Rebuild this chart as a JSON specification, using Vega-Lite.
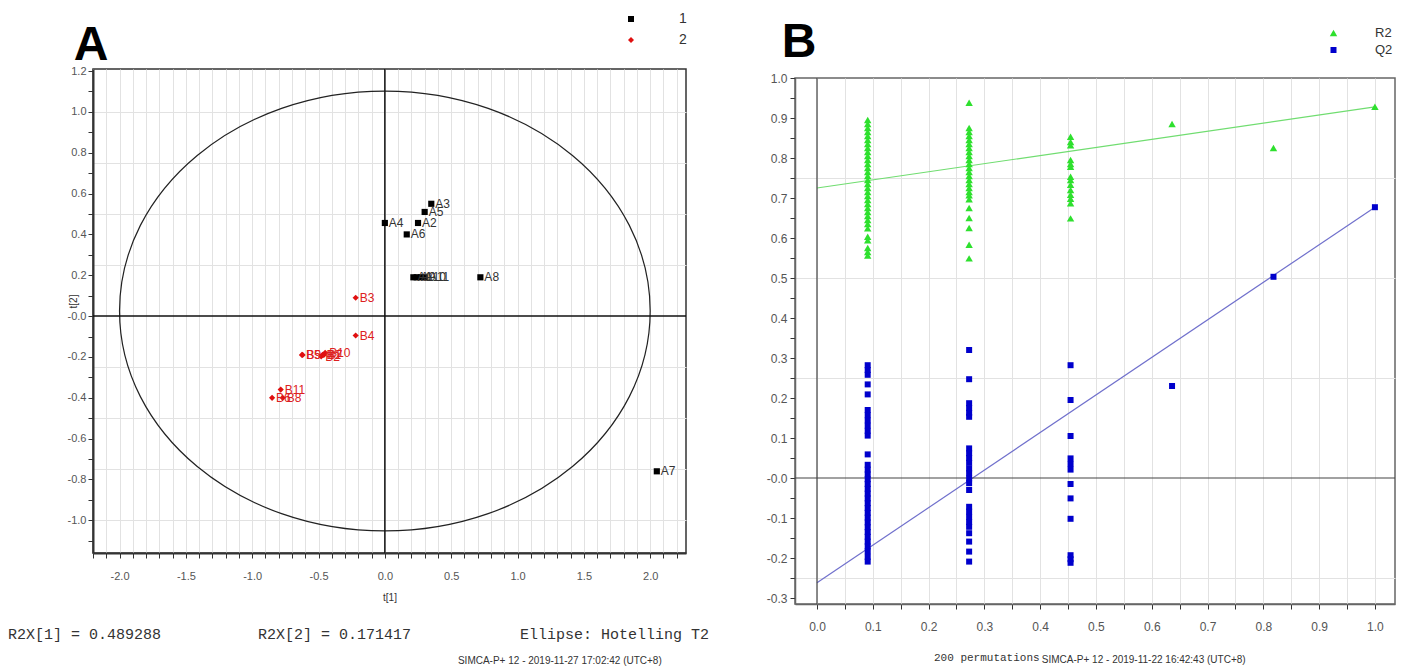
{
  "$schema": "https://vega.github.io/schema/vega-lite/v6.json",
  "background": "white",
  "padding": {"left": 7, "top": 11, "right": 6, "bottom": 2},
  "spacing": 55,
  "config": {
    "font": "Liberation Sans",
    "axis": {"labelFont": "Liberation Sans", "titleFont": "Liberation Sans", "titleFontWeight": "normal", "labelOverlap": false, "labelColor": "#555", "tickColor": "#333", "domainColor": "#333", "gridColor": "#e2e2e2", "gridWidth": 1},
    "legend": {"labelFont": "Liberation Sans"}
  },
  "resolve": {"scale": {"color": "independent", "shape": "independent", "size": "independent"}, "legend": {"color": "independent", "shape": "independent"}},
  "datasets": {
    "scoresA": [
      {"id": "A1", "g": "1", "t1": 0.215, "t2": 0.19},
      {"id": "A2", "g": "1", "t1": 0.25, "t2": 0.456},
      {"id": "A3", "g": "1", "t1": 0.35, "t2": 0.55},
      {"id": "A4", "g": "1", "t1": 0.0, "t2": 0.456},
      {"id": "A5", "g": "1", "t1": 0.30, "t2": 0.51},
      {"id": "A6", "g": "1", "t1": 0.165, "t2": 0.40},
      {"id": "A7", "g": "1", "t1": 2.05, "t2": -0.76},
      {"id": "A8", "g": "1", "t1": 0.72, "t2": 0.19},
      {"id": "A9", "g": "1", "t1": 0.24, "t2": 0.19},
      {"id": "A10", "g": "1", "t1": 0.27, "t2": 0.19},
      {"id": "A11", "g": "1", "t1": 0.30, "t2": 0.19},
      {"id": "B1", "g": "2", "t1": -0.47, "t2": -0.19},
      {"id": "B2", "g": "2", "t1": -0.48, "t2": -0.198},
      {"id": "B3", "g": "2", "t1": -0.22, "t2": 0.09},
      {"id": "B4", "g": "2", "t1": -0.22, "t2": -0.095},
      {"id": "B5", "g": "2", "t1": -0.625, "t2": -0.19},
      {"id": "B6", "g": "2", "t1": -0.85, "t2": -0.40},
      {"id": "B7", "g": "2", "t1": -0.46, "t2": -0.19},
      {"id": "B8", "g": "2", "t1": -0.77, "t2": -0.40},
      {"id": "B9", "g": "2", "t1": -0.62, "t2": -0.19},
      {"id": "B10", "g": "2", "t1": -0.45, "t2": -0.18},
      {"id": "B11", "g": "2", "t1": -0.785, "t2": -0.36}
    ],
    "permB": [
      {"p": 0.0909, "v": 0.895, "s": "R2"}, {"p": 0.0909, "v": 0.885, "s": "R2"}, {"p": 0.0909, "v": 0.875, "s": "R2"}, {"p": 0.0909, "v": 0.865, "s": "R2"}, {"p": 0.0909, "v": 0.855, "s": "R2"}, {"p": 0.0909, "v": 0.845, "s": "R2"}, {"p": 0.0909, "v": 0.835, "s": "R2"}, {"p": 0.0909, "v": 0.825, "s": "R2"}, {"p": 0.0909, "v": 0.815, "s": "R2"}, {"p": 0.0909, "v": 0.805, "s": "R2"}, {"p": 0.0909, "v": 0.795, "s": "R2"}, {"p": 0.0909, "v": 0.785, "s": "R2"}, {"p": 0.0909, "v": 0.775, "s": "R2"}, {"p": 0.0909, "v": 0.765, "s": "R2"}, {"p": 0.0909, "v": 0.755, "s": "R2"}, {"p": 0.0909, "v": 0.745, "s": "R2"}, {"p": 0.0909, "v": 0.735, "s": "R2"}, {"p": 0.0909, "v": 0.725, "s": "R2"}, {"p": 0.0909, "v": 0.715, "s": "R2"}, {"p": 0.0909, "v": 0.705, "s": "R2"}, {"p": 0.0909, "v": 0.695, "s": "R2"}, {"p": 0.0909, "v": 0.685, "s": "R2"}, {"p": 0.0909, "v": 0.675, "s": "R2"}, {"p": 0.0909, "v": 0.665, "s": "R2"}, {"p": 0.0909, "v": 0.655, "s": "R2"}, {"p": 0.0909, "v": 0.645, "s": "R2"}, {"p": 0.0909, "v": 0.635, "s": "R2"}, {"p": 0.0909, "v": 0.624, "s": "R2"}, {"p": 0.0909, "v": 0.603, "s": "R2"}, {"p": 0.0909, "v": 0.594, "s": "R2"}, {"p": 0.0909, "v": 0.575, "s": "R2"}, {"p": 0.0909, "v": 0.565, "s": "R2"}, {"p": 0.0909, "v": 0.556, "s": "R2"},
      {"p": 0.2727, "v": 0.938, "s": "R2"}, {"p": 0.2727, "v": 0.875, "s": "R2"}, {"p": 0.2727, "v": 0.865, "s": "R2"}, {"p": 0.2727, "v": 0.855, "s": "R2"}, {"p": 0.2727, "v": 0.845, "s": "R2"}, {"p": 0.2727, "v": 0.835, "s": "R2"}, {"p": 0.2727, "v": 0.825, "s": "R2"}, {"p": 0.2727, "v": 0.815, "s": "R2"}, {"p": 0.2727, "v": 0.805, "s": "R2"}, {"p": 0.2727, "v": 0.795, "s": "R2"}, {"p": 0.2727, "v": 0.785, "s": "R2"}, {"p": 0.2727, "v": 0.775, "s": "R2"}, {"p": 0.2727, "v": 0.765, "s": "R2"}, {"p": 0.2727, "v": 0.755, "s": "R2"}, {"p": 0.2727, "v": 0.745, "s": "R2"}, {"p": 0.2727, "v": 0.735, "s": "R2"}, {"p": 0.2727, "v": 0.725, "s": "R2"}, {"p": 0.2727, "v": 0.715, "s": "R2"}, {"p": 0.2727, "v": 0.707, "s": "R2"}, {"p": 0.2727, "v": 0.697, "s": "R2"}, {"p": 0.2727, "v": 0.675, "s": "R2"}, {"p": 0.2727, "v": 0.65, "s": "R2"}, {"p": 0.2727, "v": 0.625, "s": "R2"}, {"p": 0.2727, "v": 0.583, "s": "R2"}, {"p": 0.2727, "v": 0.549, "s": "R2"},
      {"p": 0.4545, "v": 0.853, "s": "R2"}, {"p": 0.4545, "v": 0.84, "s": "R2"}, {"p": 0.4545, "v": 0.832, "s": "R2"}, {"p": 0.4545, "v": 0.795, "s": "R2"}, {"p": 0.4545, "v": 0.785, "s": "R2"}, {"p": 0.4545, "v": 0.778, "s": "R2"}, {"p": 0.4545, "v": 0.753, "s": "R2"}, {"p": 0.4545, "v": 0.745, "s": "R2"}, {"p": 0.4545, "v": 0.733, "s": "R2"}, {"p": 0.4545, "v": 0.72, "s": "R2"}, {"p": 0.4545, "v": 0.708, "s": "R2"}, {"p": 0.4545, "v": 0.698, "s": "R2"}, {"p": 0.4545, "v": 0.687, "s": "R2"}, {"p": 0.4545, "v": 0.649, "s": "R2"},
      {"p": 0.6364, "v": 0.885, "s": "R2"}, {"p": 0.8182, "v": 0.825, "s": "R2"}, {"p": 1.0, "v": 0.928, "s": "R2"},
      {"p": 0.0909, "v": 0.282, "s": "Q2"}, {"p": 0.0909, "v": 0.27, "s": "Q2"}, {"p": 0.0909, "v": 0.258, "s": "Q2"}, {"p": 0.0909, "v": 0.234, "s": "Q2"}, {"p": 0.0909, "v": 0.209, "s": "Q2"}, {"p": 0.0909, "v": 0.17, "s": "Q2"}, {"p": 0.0909, "v": 0.157, "s": "Q2"}, {"p": 0.0909, "v": 0.144, "s": "Q2"}, {"p": 0.0909, "v": 0.131, "s": "Q2"}, {"p": 0.0909, "v": 0.118, "s": "Q2"}, {"p": 0.0909, "v": 0.106, "s": "Q2"}, {"p": 0.0909, "v": 0.059, "s": "Q2"}, {"p": 0.0909, "v": 0.033, "s": "Q2"}, {"p": 0.0909, "v": 0.021, "s": "Q2"}, {"p": 0.0909, "v": 0.009, "s": "Q2"}, {"p": 0.0909, "v": -0.003, "s": "Q2"}, {"p": 0.0909, "v": -0.015, "s": "Q2"}, {"p": 0.0909, "v": -0.027, "s": "Q2"}, {"p": 0.0909, "v": -0.039, "s": "Q2"}, {"p": 0.0909, "v": -0.051, "s": "Q2"}, {"p": 0.0909, "v": -0.063, "s": "Q2"}, {"p": 0.0909, "v": -0.075, "s": "Q2"}, {"p": 0.0909, "v": -0.087, "s": "Q2"}, {"p": 0.0909, "v": -0.099, "s": "Q2"}, {"p": 0.0909, "v": -0.111, "s": "Q2"}, {"p": 0.0909, "v": -0.123, "s": "Q2"}, {"p": 0.0909, "v": -0.135, "s": "Q2"}, {"p": 0.0909, "v": -0.147, "s": "Q2"}, {"p": 0.0909, "v": -0.159, "s": "Q2"}, {"p": 0.0909, "v": -0.171, "s": "Q2"}, {"p": 0.0909, "v": -0.183, "s": "Q2"}, {"p": 0.0909, "v": -0.197, "s": "Q2"}, {"p": 0.0909, "v": -0.209, "s": "Q2"},
      {"p": 0.2727, "v": 0.32, "s": "Q2"}, {"p": 0.2727, "v": 0.247, "s": "Q2"}, {"p": 0.2727, "v": 0.187, "s": "Q2"}, {"p": 0.2727, "v": 0.175, "s": "Q2"}, {"p": 0.2727, "v": 0.163, "s": "Q2"}, {"p": 0.2727, "v": 0.153, "s": "Q2"}, {"p": 0.2727, "v": 0.074, "s": "Q2"}, {"p": 0.2727, "v": 0.062, "s": "Q2"}, {"p": 0.2727, "v": 0.05, "s": "Q2"}, {"p": 0.2727, "v": 0.038, "s": "Q2"}, {"p": 0.2727, "v": 0.024, "s": "Q2"}, {"p": 0.2727, "v": 0.012, "s": "Q2"}, {"p": 0.2727, "v": -0.001, "s": "Q2"}, {"p": 0.2727, "v": -0.013, "s": "Q2"}, {"p": 0.2727, "v": -0.03, "s": "Q2"}, {"p": 0.2727, "v": -0.072, "s": "Q2"}, {"p": 0.2727, "v": -0.084, "s": "Q2"}, {"p": 0.2727, "v": -0.097, "s": "Q2"}, {"p": 0.2727, "v": -0.11, "s": "Q2"}, {"p": 0.2727, "v": -0.122, "s": "Q2"}, {"p": 0.2727, "v": -0.138, "s": "Q2"}, {"p": 0.2727, "v": -0.159, "s": "Q2"}, {"p": 0.2727, "v": -0.184, "s": "Q2"}, {"p": 0.2727, "v": -0.209, "s": "Q2"},
      {"p": 0.4545, "v": 0.282, "s": "Q2"}, {"p": 0.4545, "v": 0.195, "s": "Q2"}, {"p": 0.4545, "v": 0.105, "s": "Q2"}, {"p": 0.4545, "v": 0.049, "s": "Q2"}, {"p": 0.4545, "v": 0.035, "s": "Q2"}, {"p": 0.4545, "v": 0.021, "s": "Q2"}, {"p": 0.4545, "v": -0.015, "s": "Q2"}, {"p": 0.4545, "v": -0.051, "s": "Q2"}, {"p": 0.4545, "v": -0.102, "s": "Q2"}, {"p": 0.4545, "v": -0.193, "s": "Q2"}, {"p": 0.4545, "v": -0.203, "s": "Q2"}, {"p": 0.4545, "v": -0.212, "s": "Q2"},
      {"p": 0.6364, "v": 0.23, "s": "Q2"}, {"p": 0.8182, "v": 0.503, "s": "Q2"}, {"p": 1.0, "v": 0.677, "s": "Q2"}
    ],
    "linesB": [
      {"p": 0, "v": 0.725, "s": "R2"}, {"p": 1, "v": 0.928, "s": "R2"},
      {"p": 0, "v": -0.262, "s": "Q2"}, {"p": 1, "v": 0.677, "s": "Q2"}
    ]
  },
  "hconcat": [
    {
      "width": 593,
      "height": 484,
      "view": {"stroke": "#333", "strokeWidth": 1.5},
      "data": {"name": "scoresA"},
      "resolve": {"axis": {"x": "independent", "y": "independent"}},
      "layer": [
        {
          "data": {"values": [{"t1": 0, "t2": 0.025}]},
          "mark": {"type": "point", "shape": "M-1,0C-1,-0.4579,-0.5523,-0.829,0,-0.829C0.5523,-0.829,1,-0.4579,1,0C1,0.4579,0.5523,0.829,0,0.829C-0.5523,0.829,-1,0.4579,-1,0Z", "size": 281589, "filled": false, "stroke": "#222", "strokeWidth": 1.2, "opacity": 1},
          "encoding": {
            "x": {"field": "t1", "type": "quantitative", "scale": {"domain": [-2.2, 2.27], "nice": false, "zero": false},
                  "axis": {"orient": "bottom", "values": [-2.2,-2.1,-2,-1.9,-1.8,-1.7,-1.6,-1.5,-1.4,-1.3,-1.2,-1.1,-1,-0.9,-0.8,-0.7,-0.6,-0.5,-0.4,-0.3,-0.2,-0.1,0,0.1,0.2,0.3,0.4,0.5,0.6,0.7,0.8,0.9,1,1.1,1.2,1.3,1.4,1.5,1.6,1.7,1.8,1.9,2,2.1,2.2],
                           "labelExpr": "abs(datum.value*2 - round(datum.value*2)) > 0.001 ? '' : (datum.value < -0.001 ? '-' : '') + format(abs(datum.value), '.1f')",
                           "grid": true, "tickSize": 5, "domainWidth": 2, "labelFontSize": 11, "labelPadding": 12, "title": "t[1]", "titleFontSize": 10, "titlePadding": 11, "titleColor": "#333"}},
            "y": {"field": "t2", "type": "quantitative", "scale": {"domain": [-1.16, 1.21], "nice": false, "zero": false},
                  "axis": {"orient": "right", "values": [-1, -0.75, -0.5, -0.25, 0.25, 0.5, 0.75, 1], "grid": true, "labels": false, "ticks": false, "domain": false, "title": null}}
          }
        },
        {
          "data": {"values": [{}]},
          "mark": {"type": "rule", "color": "#111", "strokeWidth": 1.5},
          "encoding": {"x": {"datum": 0, "type": "quantitative", "scale": {"domain": [-2.2, 2.27], "nice": false, "zero": false}, "axis": null}}
        },
        {
          "data": {"values": [{}]},
          "mark": {"type": "rule", "color": "#111", "strokeWidth": 1.5},
          "encoding": {"y": {"datum": 0, "type": "quantitative", "scale": {"domain": [-1.16, 1.21], "nice": false, "zero": false}, "axis": null}}
        },
        {
          "mark": {"type": "point", "filled": true, "opacity": 1, "size": 38},
          "encoding": {
            "x": {"field": "t1", "type": "quantitative", "scale": {"domain": [-2.2, 2.27], "nice": false, "zero": false}, "axis": null},
            "y": {"field": "t2", "type": "quantitative", "scale": {"domain": [-1.16, 1.21], "nice": false, "zero": false},
                  "axis": {"orient": "left", "values": [-1.1,-1,-0.9,-0.8,-0.7,-0.6,-0.5,-0.4,-0.3,-0.2,-0.1,0,0.1,0.2,0.3,0.4,0.5,0.6,0.7,0.8,0.9,1,1.1,1.2],
                           "labelExpr": "abs(datum.value*5 - round(datum.value*5)) > 0.001 ? '' : (abs(datum.value) < 0.001 ? '-0.0' : (datum.value < 0 ? '-' : '') + format(abs(datum.value), '.1f'))",
                           "grid": false, "tickSize": 5, "domainWidth": 2, "labelFontSize": 11, "labelPadding": 2, "title": "t[2]", "titleFontSize": 10, "titleColor": "#333", "titleX": -20, "titleY": 232, "titleAngle": -90, "titleAlign": "center", "titleBaseline": "middle"}},
            "color": {"field": "g", "type": "nominal", "scale": {"domain": ["1", "2"], "range": ["#000000", "#e01010"]},
                      "legend": {"orient": "none", "legendX": 531, "legendY": -57, "title": null, "labelFontSize": 14, "labelColor": "#333", "labelOffset": 41, "rowPadding": 7, "symbolSize": 36, "symbolStrokeWidth": 0, "padding": 0}},
            "shape": {"field": "g", "type": "nominal", "scale": {"domain": ["1", "2"], "range": ["square", "diamond"]},
                      "legend": {"orient": "none", "legendX": 531, "legendY": -57, "title": null, "labelFontSize": 14, "labelColor": "#333", "labelOffset": 41, "rowPadding": 7, "symbolSize": 36, "symbolStrokeWidth": 0, "padding": 0}}
          }
        },
        {
          "mark": {"type": "text", "align": "left", "baseline": "middle", "dx": 4, "fontSize": 12, "font": "Liberation Sans"},
          "encoding": {
            "x": {"field": "t1", "type": "quantitative", "scale": {"domain": [-2.2, 2.27], "nice": false, "zero": false}, "axis": null},
            "y": {"field": "t2", "type": "quantitative", "scale": {"domain": [-1.16, 1.21], "nice": false, "zero": false}, "axis": null},
            "text": {"field": "id"},
            "color": {"condition": {"test": "datum.g == '2'", "value": "#dd2020"}, "value": "#333333"}
          }
        },
        {
          "data": {"values": [{}]},
          "mark": {"type": "text", "text": "A", "align": "left", "baseline": "alphabetic", "fontSize": 48, "fontWeight": "bold", "font": "Liberation Sans", "color": "#000"},
          "encoding": {"x": {"datum": -2.345, "type": "quantitative", "axis": null}, "y": {"datum": 1.254, "type": "quantitative", "axis": null}}
        },
        {
          "data": {"values": [{}]},
          "mark": {"type": "text", "text": "R2X[1] = 0.489288", "align": "left", "baseline": "middle", "fontSize": 15, "font": "Liberation Mono", "color": "#333"},
          "encoding": {"x": {"datum": -2.841, "type": "quantitative", "axis": null}, "y": {"datum": -1.557, "type": "quantitative", "axis": null}}
        },
        {
          "data": {"values": [{}]},
          "mark": {"type": "text", "text": "R2X[2] = 0.171417", "align": "left", "baseline": "middle", "fontSize": 15, "font": "Liberation Mono", "color": "#333"},
          "encoding": {"x": {"datum": -0.956, "type": "quantitative", "axis": null}, "y": {"datum": -1.557, "type": "quantitative", "axis": null}}
        },
        {
          "data": {"values": [{}]},
          "mark": {"type": "text", "text": "Ellipse: Hotelling T2", "align": "left", "baseline": "middle", "fontSize": 15, "font": "Liberation Mono", "color": "#333"},
          "encoding": {"x": {"datum": 1.019, "type": "quantitative", "axis": null}, "y": {"datum": -1.557, "type": "quantitative", "axis": null}}
        },
        {
          "data": {"values": [{}]},
          "mark": {"type": "text", "text": "SIMCA-P+ 12 - 2019-11-27 17:02:42 (UTC+8)", "align": "left", "baseline": "middle", "fontSize": 10, "font": "Liberation Sans", "color": "#333"},
          "encoding": {"x": {"datum": 0.551, "type": "quantitative", "axis": null}, "y": {"datum": -1.689, "type": "quantitative", "axis": null}}
        }
      ]
    },
    {
      "vconcat": [
        {
          "width": 600,
          "height": 9,
          "view": {"stroke": null},
          "data": {"values": []},
          "mark": {"type": "point"}
        },
        {
          "width": 600,
          "height": 526,
          "view": {"stroke": "#666", "strokeWidth": 1.5},
          "resolve": {"axis": {"x": "independent", "y": "independent"}},
          "layer": [
            {
              "data": {"name": "linesB"},
              "mark": {"type": "line", "strokeWidth": 1.2},
              "encoding": {
                "x": {"field": "p", "type": "quantitative", "scale": {"domain": [-0.0394, 1.036], "nice": false, "zero": false},
                      "axis": {"orient": "bottom", "values": [0,0.05,0.1,0.15,0.2,0.25,0.3,0.35,0.4,0.45,0.5,0.55,0.6,0.65,0.7,0.75,0.8,0.85,0.9,0.95,1],
                               "labelExpr": "abs(datum.value*10 - round(datum.value*10)) > 0.001 ? '' : format(abs(datum.value), '.1f')",
                               "grid": true, "tickSize": 5, "domainWidth": 1.5, "domainColor": "#666", "labelFontSize": 12, "labelPadding": 12, "title": null}},
                "y": {"field": "v", "type": "quantitative", "scale": {"domain": [-0.315, 1.0], "nice": false, "zero": false},
                      "axis": {"orient": "right", "values": [-0.25, 0.25, 0.5, 0.75], "grid": true, "labels": false, "ticks": false, "domain": false, "title": null}},
                "detail": {"field": "s"},
                "color": {"condition": {"test": "datum.s == 'R2'", "value": "#70dd70"}, "value": "#7070cc"}
              }
            },
            {
              "data": {"values": [{}]},
              "mark": {"type": "rule", "color": "#444", "strokeWidth": 1.2},
              "encoding": {"x": {"datum": 0, "type": "quantitative", "scale": {"domain": [-0.0394, 1.036], "nice": false, "zero": false}, "axis": null}}
            },
            {
              "data": {"values": [{}]},
              "mark": {"type": "rule", "color": "#444", "strokeWidth": 1.2},
              "encoding": {"y": {"datum": 0, "type": "quantitative", "scale": {"domain": [-0.315, 1.0], "nice": false, "zero": false}, "axis": null}}
            },
            {
              "data": {"name": "permB"},
              "mark": {"type": "point", "filled": true, "opacity": 1},
              "encoding": {
                "x": {"field": "p", "type": "quantitative", "scale": {"domain": [-0.0394, 1.036], "nice": false, "zero": false}, "axis": null},
                "y": {"field": "v", "type": "quantitative", "scale": {"domain": [-0.315, 1.0], "nice": false, "zero": false},
                      "axis": {"orient": "left", "values": [-0.3,-0.25,-0.2,-0.15,-0.1,-0.05,0,0.05,0.1,0.15,0.2,0.25,0.3,0.35,0.4,0.45,0.5,0.55,0.6,0.65,0.7,0.75,0.8,0.85,0.9,0.95,1],
                               "labelExpr": "abs(datum.value*10 - round(datum.value*10)) > 0.001 ? '' : (abs(datum.value) < 0.001 ? '-0.0' : (datum.value < 0 ? '-' : '') + format(abs(datum.value), '.1f'))",
                               "grid": false, "tickSize": 5, "domainWidth": 1.5, "domainColor": "#666", "labelFontSize": 12, "labelPadding": 3, "title": null}},
                "size": {"field": "s", "type": "nominal", "scale": {"domain": ["R2", "Q2"], "range": [55, 36]}, "legend": null},
                "color": {"field": "s", "type": "nominal", "scale": {"domain": ["R2", "Q2"], "range": ["#2ee02e", "#0000cc"]},
                          "legend": {"orient": "none", "legendX": 532, "legendY": -42.5, "title": null, "labelFontSize": 13, "labelColor": "#333", "labelOffset": 35, "rowPadding": 3, "symbolSize": 45, "symbolStrokeWidth": 0, "padding": 0}},
                "shape": {"field": "s", "type": "nominal", "scale": {"domain": ["R2", "Q2"], "range": ["triangle-up", "square"]},
                          "legend": {"orient": "none", "legendX": 532, "legendY": -42.5, "title": null, "labelFontSize": 13, "labelColor": "#333", "labelOffset": 35, "rowPadding": 3, "symbolSize": 45, "symbolStrokeWidth": 0, "padding": 0}}
              }
            },
            {
              "data": {"values": [{}]},
              "mark": {"type": "text", "text": "B", "align": "left", "baseline": "alphabetic", "fontSize": 48, "fontWeight": "bold", "font": "Liberation Sans", "color": "#000"},
              "encoding": {"x": {"datum": -0.063, "type": "quantitative", "axis": null}, "y": {"datum": 1.0525, "type": "quantitative", "axis": null}}
            },
            {
              "data": {"values": [{}]},
              "mark": {"type": "text", "text": "200 permutations", "align": "left", "baseline": "middle", "fontSize": 11, "font": "Liberation Mono", "color": "#333"},
              "encoding": {"x": {"datum": 0.2097, "type": "quantitative", "axis": null}, "y": {"datum": -0.45, "type": "quantitative", "axis": null}}
            },
            {
              "data": {"values": [{}]},
              "mark": {"type": "text", "text": "SIMCA-P+ 12 - 2019-11-22 16:42:43 (UTC+8)", "align": "left", "baseline": "middle", "fontSize": 10, "font": "Liberation Sans", "color": "#333"},
              "encoding": {"x": {"datum": 0.403, "type": "quantitative", "axis": null}, "y": {"datum": -0.455, "type": "quantitative", "axis": null}}
            }
          ]
        }
      ],
      "spacing": 0,
      "bounds": "flush"
    }
  ]
}
